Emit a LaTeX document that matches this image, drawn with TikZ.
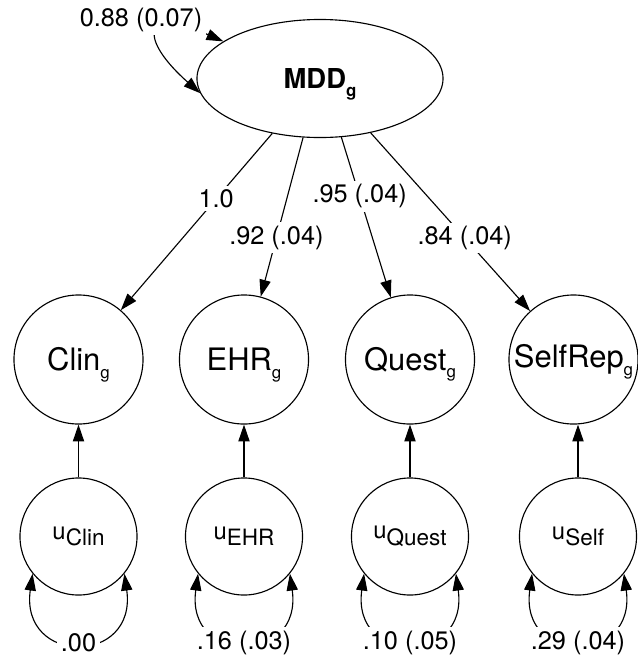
\documentclass[tikz,border=0pt]{standalone}
\usepackage{fontspec}
\setmainfont{TeX Gyre Heros}
\usetikzlibrary{arrows.meta,shapes.geometric}
\newcommand{\gsub}[1]{\raisebox{-5.5pt}[0pt][0pt]{\fontsize{12}{12}\selectfont #1}}
\newcommand{\usub}[1]{\raisebox{-4.5pt}{\fontsize{16}{16}\selectfont #1}}
\begin{document}
\begin{tikzpicture}[x=0.025cm, y=-0.025cm, line width=0.8pt,
  >={Triangle[length=12pt,width=8pt]},
  factor/.style={ellipse, draw, minimum width=6.15cm, minimum height=2.95cm, inner sep=0pt,
    font=\fontsize{19.5}{23}\selectfont\bfseries},
  indicator/.style={circle, draw, minimum size=3.225cm, inner sep=0pt,
    font=\fontsize{22}{26}\selectfont},
  resid/.style={circle, draw, minimum size=2.925cm, inner sep=0pt,
    font=\fontsize{17}{20}\selectfont},
  coef/.style={fill=white, inner sep=2.5pt, font=\fontsize{18}{21}\selectfont}]
\useasboundingbox (0,0) rectangle (638,659);
\node[factor] (mdd) at (320,78.5) {MDD\gsub{g}};
\node[indicator] (clin) at (78.5,359.5) {Clin\gsub{g}};
\node[indicator] (ehr) at (244,359.5) {EHR\gsub{g}};
\node[indicator] (quest) at (410,359.5) {Quest\gsub{g}};
\node[indicator] (selfrep) at (573.5,359.5) {SelfRep\gsub{g}};
\node[resid] (uclin) at (78.5,536.5) {u\usub{Clin}};
\node[resid] (uehr) at (244,536.5) {u\usub{EHR}};
\node[resid] (uquest) at (410,536.5) {u\usub{Quest}};
\node[resid] (uself) at (578,536.5) {u\usub{Self}};
\draw[<->] (mdd.187) .. controls (140,40) and (140,5) .. (mdd.159);
\node[coef] (mddvar) at (141,20) {0.88 (0.07)};
\draw[->] (mdd.229) -- node[coef, pos=0.37] {1.0} (clin);
\draw[->] (mdd.254) -- node[coef, pos=0.63] {.92 (.04)} (ehr);
\draw[->] (mdd.290) -- node[coef, pos=0.37] {.95 (.04)} (quest);
\draw[->] (mdd.313) -- node[coef, pos=0.59] {.84 (.04)} (selfrep);
\draw[->] (uclin) -- (clin);
\draw[->] (uehr) -- (ehr);
\draw[->] (uquest) -- (quest);
\draw[->] (uself.north) -- (uself.north |- selfrep.south);
\draw[<->] (uclin.219) to[out=262, in=278, looseness=2.6] node[coef] {.00} (uclin.321);
\draw[<->] (uehr.219) to[out=262, in=278, looseness=2.6] node[coef] {.16 (.03)} (uehr.321);
\draw[<->] (uquest.219) to[out=262, in=278, looseness=2.6] node[coef] {.10 (.05)} (uquest.321);
\draw[<->] (uself.219) to[out=262, in=278, looseness=2.6] node[coef] {.29 (.04)} (uself.321);
\end{tikzpicture}
\end{document}
